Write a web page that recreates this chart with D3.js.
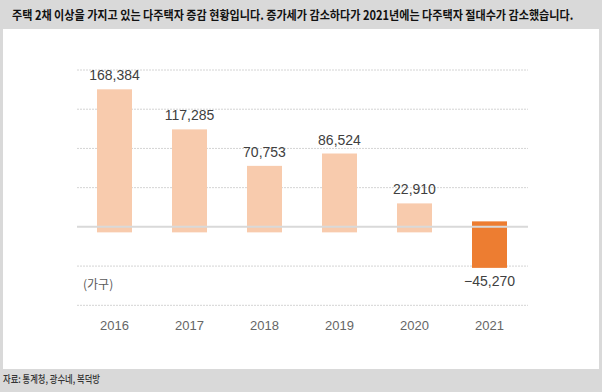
<!DOCTYPE html>
<html><head><meta charset="utf-8">
<script src="https://cdn.jsdelivr.net/npm/d3@7"></script>
<style>html,body{margin:0;padding:0;background:#d9d9d9;}svg{display:block;}</style>
</head><body>
<svg id="c" width="602" height="392"></svg>
<script>
const years = ["2016","2017","2018","2019","2020","2021"];
const values = [168384, 117285, 70753, 86524, 22910, -45270];
const gridTicks = [-100000, -50000, 0, 50000, 100000, 150000, 200000];
const title = "주택 2채 이상을 가지고 있는 다주택자 증감 현황입니다. 증가세가 감소하다가 2021년에는 다주택자 절대수가 감소했습니다.";
const unitLabel = "(가구)";
const source = "자료: 통계청, 광수네, 복덕방";

const svg = d3.select("#c");
const numFont = "'Liberation Sans', Arial, sans-serif";
const krFont = "'Noto Sans CJK KR', 'Noto Sans', sans-serif";

// panel
svg.append("rect").attr("x",0).attr("y",0).attr("width",602).attr("height",392).attr("fill","#d9d9d9");
svg.append("rect").attr("x",3).attr("y",29).attr("width",596).attr("height",340).attr("fill","#ffffff");

function fitText(sel, targetW, x0, y0) {
  const w = sel.node().getComputedTextLength();
  sel.attr("transform", `translate(${x0},${y0}) scale(${targetW / w},1)`);
}
const t = svg.append("text").attr("x",0).attr("y",0).attr("font-family",krFont).attr("font-weight","bold")
  .attr("font-size",12.5).attr("fill","#111").text(title);
fitText(t, 562, 12, 20);
const s = svg.append("text").attr("x",0).attr("y",0).attr("font-family",krFont).attr("font-size",10.5)
  .attr("font-weight",500).attr("fill","#333").text(source);
fitText(s, 97, 3, 383);

const x = d3.scaleBand().domain(years).range([77,527]).paddingInner(40/75).paddingOuter(20/75);
const y = d3.scaleLinear().domain([-100000, 200000]).range([305.3, 70]);

// dotted gridlines
svg.append("g").selectAll("line").data(gridTicks.filter(d=>d!==0)).join("line")
  .attr("x1",77).attr("x2",528).attr("y1",d=>y(d)).attr("y2",d=>y(d))
  .attr("stroke","#d4d4d4").attr("stroke-width",1).attr("stroke-dasharray","2,1");

const pad = 5.5;
svg.append("g").selectAll("rect").data(values).join("rect")
  .attr("x",(d,i)=>x(years[i])).attr("width",x.bandwidth())
  .attr("y",d=>y(Math.max(d,0))-pad)
  .attr("height",d=>Math.abs(y(d)-y(0))+2*pad)
  .attr("fill",d=>d<0?"#ed7d31":"#f8cbad");

// zero line
svg.append("line").attr("x1",77).attr("x2",528).attr("y1",y(0)).attr("y2",y(0))
  .attr("stroke","#d9d9d9").attr("stroke-width",2);

const fmt = d3.format(",");
svg.append("g").selectAll("text").data(values).join("text")
  .attr("x",(d,i)=>x(years[i])+x.bandwidth()/2)
  .attr("y",d=>d>=0 ? y(d)-pad-9 : y(d)+pad+18)
  .attr("text-anchor","middle").attr("font-family",numFont).attr("font-size",14).attr("fill","#404040")
  .text(d=>d<0 ? "\u2212"+fmt(-d) : fmt(d));

// x axis labels
svg.append("g").selectAll("text").data(years).join("text")
  .attr("x",d=>x(d)+x.bandwidth()/2).attr("y",330).attr("text-anchor","middle")
  .attr("font-family",numFont).attr("font-size",13).attr("fill","#666").text(d=>d);

svg.append("text").attr("x",83).attr("y",289).attr("font-family",krFont).attr("font-size",12)
  .attr("fill","#595959").text(unitLabel);
</script>
</body></html>
